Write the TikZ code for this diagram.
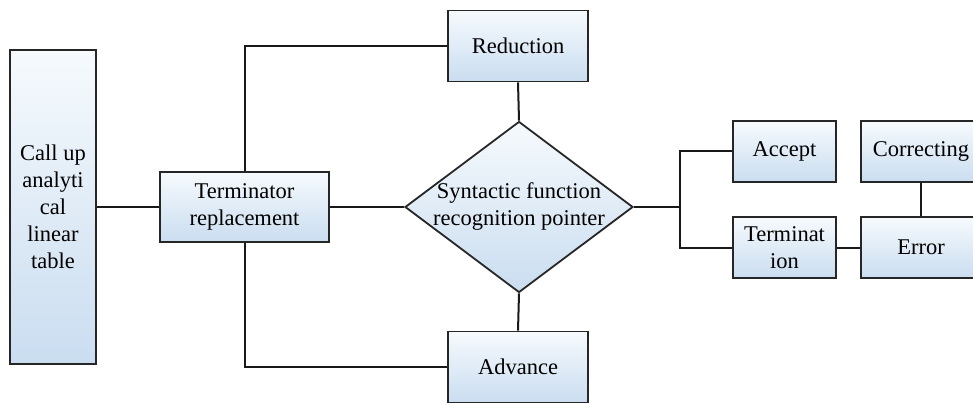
\documentclass[tikz,border=0pt]{standalone}
\usepackage{fontspec}
\newfontfamily\boxfont{Liberation Serif}
\usepackage{xcolor}
\usepackage{tikz}
\usetikzlibrary{shapes.geometric,calc}

\definecolor{boxtop}{HTML}{F6FAFD}
\definecolor{boxbot}{HTML}{CADDF0}

\tikzset{
	blk/.style={draw=black!85,line width=1.8pt,top color=boxtop,bottom color=boxbot,
		align=center,inner sep=2pt,font=\boxfont\fontsize{22.5}{27}\selectfont},
	decision/.style={blk,diamond,aspect=1.33,inner sep=-3pt,minimum width=228pt,minimum height=171pt},
	wire/.style={line width=2pt,black!90}
}

\begin{document}
\begin{tikzpicture}[x=1pt,y=-1pt]
	\clip (0,0) rectangle (973,403);
	
	\node[blk,minimum width=86pt,minimum height=314pt] (call) at (53,207) {Call up\\analyti\\cal\\linear\\table};
	\node[blk,minimum width=169pt,minimum height=70pt] (term) at (244.5,207) {Terminator\\replacement};
	\node[decision] (synt) at (519,207) {Syntactic function\\recognition pointer};
	
	\foreach \n/\y/\t in {red/46/Reduction,adv/367/Advance}
		\node[blk,minimum width=140pt,minimum height=71pt] (\n) at (518,\y) {\t};
	
	\node[blk,minimum width=103pt,minimum height=61pt] (acc) at (784.5,151.5) {Accept};
	\node[blk,minimum width=103pt,minimum height=61pt] (termi) at (784.5,247.5) {Terminat\\ion};
	\node[blk,minimum width=120pt,minimum height=61pt] (corr) at (921,151.5) {Correcting};
	\node[blk,minimum width=120pt,minimum height=61pt] (err) at (921,247.5) {Error};
	
	\coordinate (br) at (680,207);
	
	\draw[wire] (call.east) -- (term.west);
	\draw[wire] (term.north) |- (red.west);
	\draw[wire] (term.south) |- (adv.west);
	\draw[wire] (term.east) -- (synt.west);
	\draw[wire] (red.south) -- (synt.north);
	\draw[wire] (synt.south) -- (adv.north);
	\draw[wire] (synt.east) -- (br);
	\draw[wire] (br) |- (acc.west);
	\draw[wire] (br) |- (termi.west);
	\draw[wire] (termi.east) -- (err.west);
	\draw[wire] (corr.south) -- (err.north);
\end{tikzpicture}
\end{document}
